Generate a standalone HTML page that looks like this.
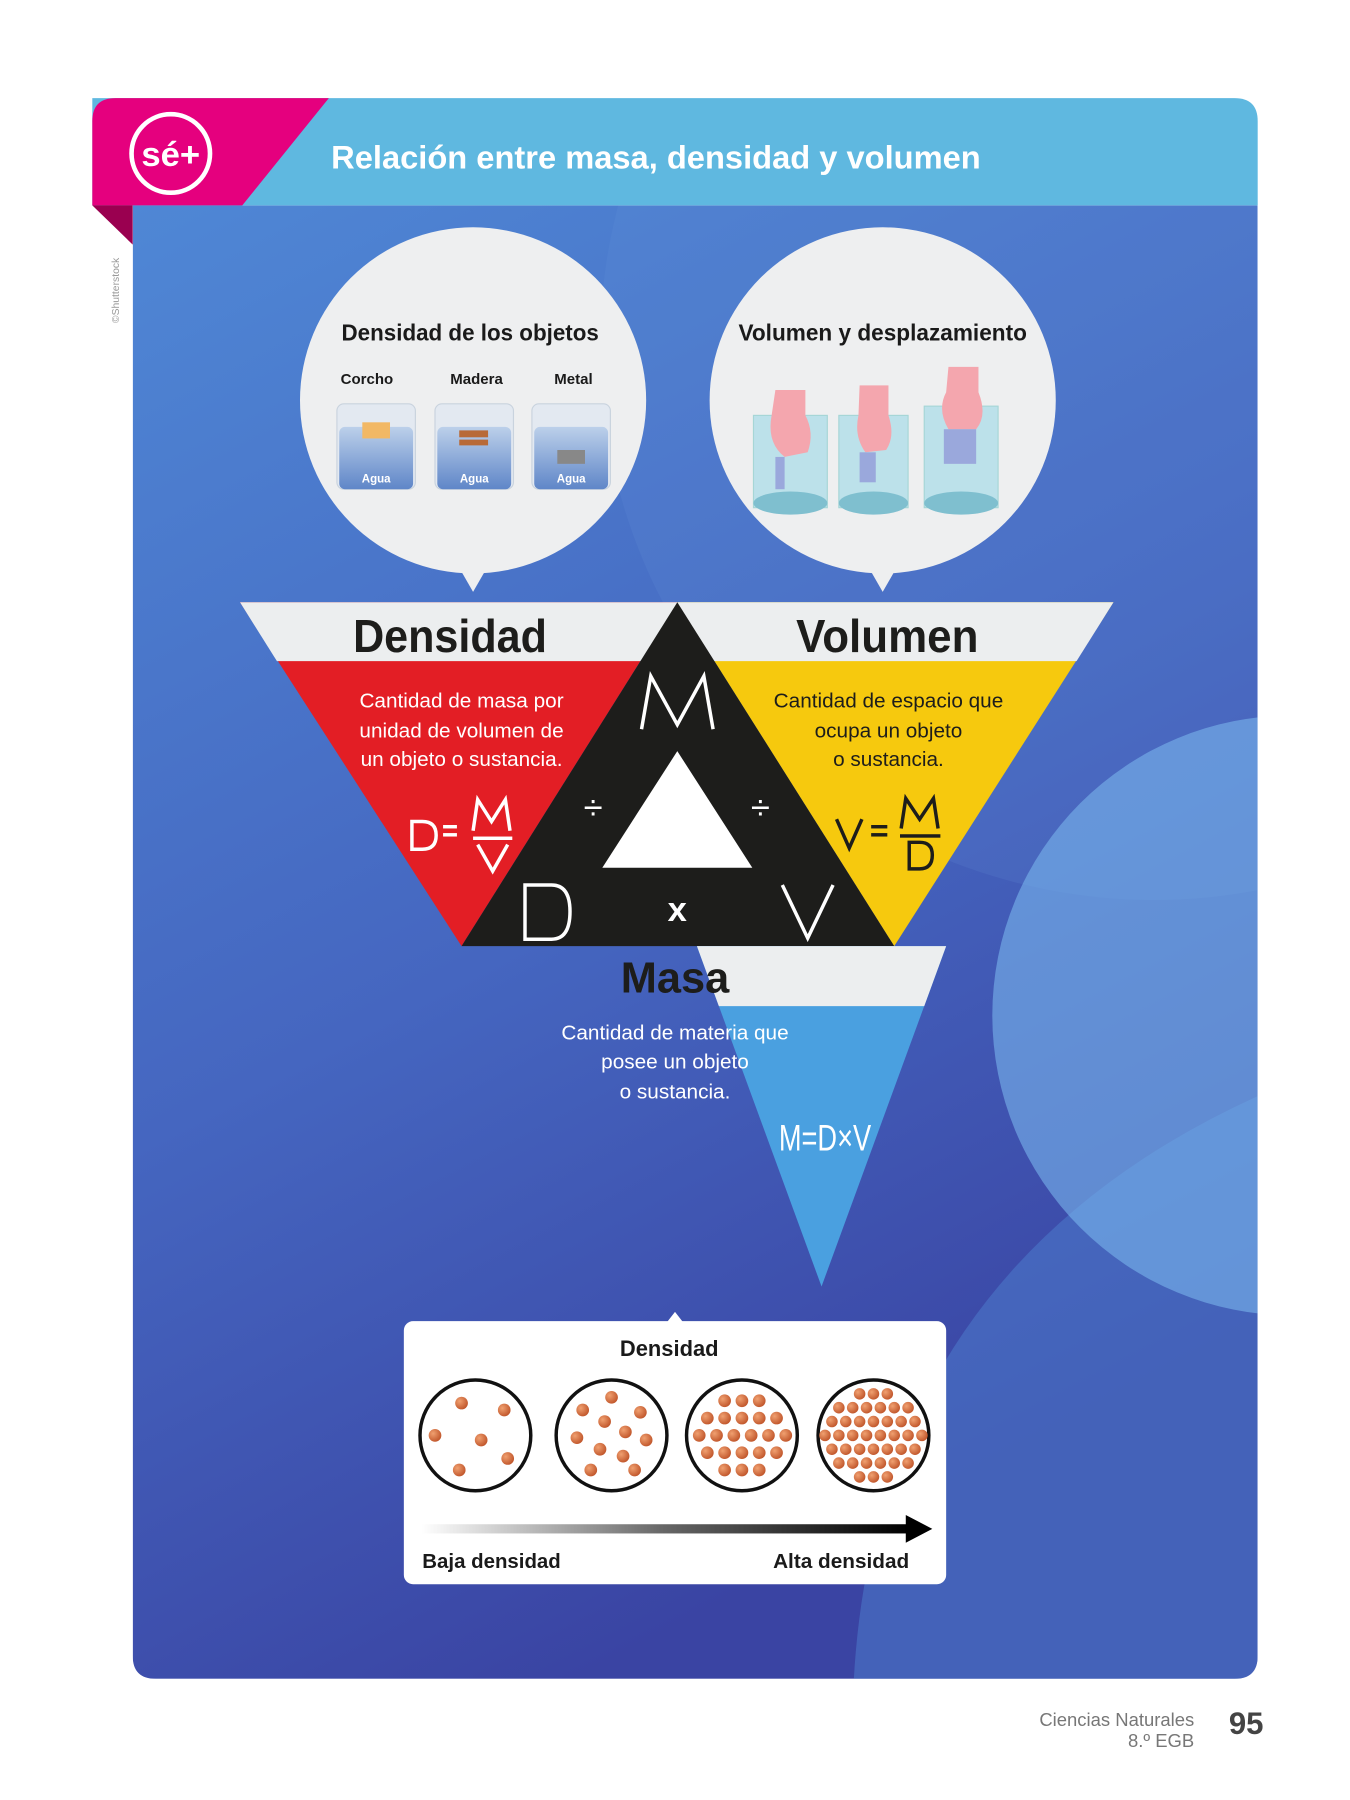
<!DOCTYPE html>
<html><head><meta charset="utf-8"><style>
html,body{margin:0;padding:0;background:#fff}
svg{display:block}
text{font-family:"Liberation Sans",sans-serif}
</style></head><body>
<svg width="1350" height="1800" viewBox="0 0 1170 1560" xmlns="http://www.w3.org/2000/svg">
<defs>
<linearGradient id="bg" x1="0" y1="0" x2="0.4" y2="1">
<stop offset="0" stop-color="#4f87d5"/><stop offset="0.55" stop-color="#4566c0"/><stop offset="1" stop-color="#3a44a3"/>
</linearGradient>
<clipPath id="pc"><path d="M115 178 H1090 V1435 Q1090 1455 1070 1455 H135 Q115 1455 115 1435 Z"/></clipPath>
<linearGradient id="arr" x1="0" x2="1"><stop offset="0" stop-color="#fff"/><stop offset="0.5" stop-color="#666"/><stop offset="1" stop-color="#000"/></linearGradient>
<radialGradient id="dot" cx="0.35" cy="0.35" r="0.7"><stop offset="0" stop-color="#f0a070"/><stop offset="1" stop-color="#c0552a"/></radialGradient>
<linearGradient id="wat" x1="0" y1="0" x2="0" y2="1"><stop offset="0" stop-color="#bcd0ea"/><stop offset="1" stop-color="#5f86c8"/></linearGradient>
</defs>
<rect width="1170" height="1560" fill="#fff"/>
<g clip-path="url(#pc)">
<rect x="115" y="178" width="975" height="1277" fill="url(#bg)"/>
<circle cx="1000" cy="300" r="480" fill="#6a9ae0" opacity="0.15"/>
<path d="M740 1455 Q760 1100 1090 950 V1455 Z" fill="#4d7fd0" opacity="0.5"/>
<circle cx="1120" cy="880" r="260" fill="#7ab6ec" opacity="0.6"/>
</g>
<!-- header -->
<path d="M80 85 H1070 Q1090 85 1090 105 V178 H80 Z" fill="#5fb8e0"/>
<path d="M100 85 H285 L210 178 H80 V105 Q80 85 100 85 Z" fill="#e5007e"/>
<path d="M80 178 H115 V212 Z" fill="#9a0050"/>
<circle cx="148" cy="133" r="34" fill="none" stroke="#fff" stroke-width="4"/>
<text x="148" y="144" font-size="30" font-weight="bold" fill="#fff" text-anchor="middle">sé+</text>
<text x="287" y="146" font-size="28" font-weight="bold" fill="#fff" textLength="563" lengthAdjust="spacingAndGlyphs">Relación entre masa, densidad y volumen</text>
<text transform="translate(103,280) rotate(-90)" font-size="9" fill="#999">©Shutterstock</text>
<!-- circles -->
<circle cx="410" cy="347" r="150" fill="#eeeff0"/>
<path d="M398 492 L410 513 L422 492 Z" fill="#eeeff0"/>
<circle cx="765" cy="347" r="150" fill="#eeeff0"/>
<path d="M753 492 L765 513 L777 492 Z" fill="#eeeff0"/>
<text x="296" y="295" font-size="20" font-weight="bold" fill="#1a1a1a" textLength="223" lengthAdjust="spacingAndGlyphs">Densidad de los objetos</text>
<text x="640" y="295" font-size="20" font-weight="bold" fill="#1a1a1a" textLength="250" lengthAdjust="spacingAndGlyphs">Volumen y desplazamiento</text>
<g font-size="13" font-weight="bold" fill="#1a1a1a" text-anchor="middle">
<text x="318" y="333">Corcho</text><text x="413" y="333">Madera</text><text x="497" y="333">Metal</text></g>
<g>
<g transform="translate(326,0)"><rect x="-34" y="350" width="68" height="74" rx="6" fill="#e3e9f1" stroke="#c9d3de"/><rect x="-32" y="370" width="64" height="54" rx="5" fill="url(#wat)"/><text x="0" y="418" font-size="10" fill="#fff" text-anchor="middle" font-weight="bold">Agua</text></g>
<g transform="translate(411,0)"><rect x="-34" y="350" width="68" height="74" rx="6" fill="#e3e9f1" stroke="#c9d3de"/><rect x="-32" y="370" width="64" height="54" rx="5" fill="url(#wat)"/><text x="0" y="418" font-size="10" fill="#fff" text-anchor="middle" font-weight="bold">Agua</text></g>
<g transform="translate(495,0)"><rect x="-34" y="350" width="68" height="74" rx="6" fill="#e3e9f1" stroke="#c9d3de"/><rect x="-32" y="370" width="64" height="54" rx="5" fill="url(#wat)"/><text x="0" y="418" font-size="10" fill="#fff" text-anchor="middle" font-weight="bold">Agua</text></g>
<rect x="314" y="366" width="24" height="14" fill="#f2b865"/>
<rect x="398" y="373" width="25" height="6" fill="#b86a38"/><rect x="398" y="381" width="25" height="5" fill="#b86a38"/>
<rect x="483" y="390" width="24" height="12" fill="#888"/>
</g>
<g>
<g transform="translate(685,0)"><rect x="-32" y="360" width="64" height="80" fill="#a8dce8" opacity="0.7" stroke="#8cc"/><ellipse cx="0" cy="436" rx="32" ry="10" fill="#7fbfcf"/></g>
<g transform="translate(757,0)"><rect x="-30" y="360" width="60" height="80" fill="#a8dce8" opacity="0.7" stroke="#8cc"/><ellipse cx="0" cy="436" rx="30" ry="10" fill="#7fbfcf"/></g>
<g transform="translate(833,0)"><rect x="-32" y="352" width="64" height="88" fill="#a8dce8" opacity="0.7" stroke="#8cc"/><ellipse cx="0" cy="436" rx="32" ry="10" fill="#7fbfcf"/></g>
<path d="M672 338 H698 V360 Q706 375 700 392 L680 396 Q666 385 668 365 Z" fill="#f4a6ae"/>
<path d="M745 334 H770 V360 Q776 378 768 390 L750 392 Q740 378 744 360 Z" fill="#f4a6ae"/>
<path d="M822 318 H848 V340 Q856 360 846 372 L822 372 Q812 355 820 340 Z" fill="#f4a6ae"/>
<rect x="672" y="396" width="8" height="28" fill="#9aa8dc"/>
<rect x="745" y="392" width="14" height="26" fill="#9aa8dc"/>
<rect x="818" y="372" width="28" height="30" fill="#9aa8dc"/>
</g>
<!-- triangles -->
<path d="M208 522 H587 L400 820 Z" fill="#e31e25"/>
<path d="M587 522 H965 L775 820 Z" fill="#f6c90e"/>
<path d="M208 522 H965 L933 573 H240 Z" fill="#eceeef"/>
<path d="M587 522 L775 820 H400 Z" fill="#1d1d1b"/>
<path d="M587 651 L652 752 H522 Z" fill="#fff"/>
<path d="M604 820 H820 L712 1115 Z" fill="#4aa0e0"/>
<path d="M604 820 H820 L801 872 H623 Z" fill="#eceeef"/>
<text x="306" y="565" font-size="40" font-weight="bold" fill="#1d1d1b" textLength="168" lengthAdjust="spacingAndGlyphs">Densidad</text>
<text x="690" y="565" font-size="40" font-weight="bold" fill="#1d1d1b" textLength="158" lengthAdjust="spacingAndGlyphs">Volumen</text>
<text x="538" y="860" font-size="38" font-weight="bold" fill="#1d1d1b" textLength="94" lengthAdjust="spacingAndGlyphs">Masa</text>
<g font-size="18" fill="#fff" text-anchor="middle">
<text x="400" y="613">Cantidad de masa por</text><text x="400" y="639">unidad de volumen de</text><text x="400" y="664">un objeto o sustancia.</text>
<text x="585" y="901">Cantidad de materia que</text><text x="585" y="926">posee un objeto</text><text x="585" y="952">o sustancia.</text>
</g>
<g font-size="18" fill="#1d1d1b" text-anchor="middle">
<text x="770" y="613">Cantidad de espacio que</text><text x="770" y="639">ocupa un objeto</text><text x="770" y="664">o sustancia.</text>
</g>
<g fill="none" stroke="#fff" stroke-width="3">
<path d="M556 632 L564 586 L587 628 L610 586 L618 632"/>
<path d="M455 767 V814 H478 Q494 814 494 790 Q494 767 478 767 Z"/>
<path d="M678 767 L700 813 L722 767"/>
<path d="M357 712 V736 H366 Q378 736 378 724 Q378 712 366 712 Z"/>
<path d="M410 720 L414 693 L426 712 L438 693 L442 720"/>
<path d="M414 732 L427 755 L440 732"/>
<path d="M725 710 L736 735 L747 710" stroke="#1d1d1b"/>
<path d="M781 718 L785 692 L797 710 L809 692 L813 718" stroke="#1d1d1b"/>
<path d="M788 730 V753 H797 Q808 753 808 741 Q808 730 797 730 Z" stroke="#1d1d1b"/>
</g>
<g fill="#fff"><rect x="384" y="715" width="12" height="3"/><rect x="384" y="722" width="12" height="3"/><rect x="410" y="725" width="34" height="3"/></g>
<g fill="#1d1d1b"><rect x="755" y="715" width="14" height="3"/><rect x="755" y="722" width="14" height="3"/><rect x="780" y="723" width="35" height="3"/></g>
<text x="514" y="710" font-size="30" fill="#fff" text-anchor="middle">÷</text>
<text x="659" y="710" font-size="30" fill="#fff" text-anchor="middle">÷</text>
<text x="587" y="798" font-size="30" font-weight="bold" fill="#fff" text-anchor="middle">x</text>
<text x="715" y="997" font-size="32" fill="#fff" text-anchor="middle" textLength="80" lengthAdjust="spacingAndGlyphs">M=D×V</text>
<!-- bottom box -->
<path d="M578 1146 L585 1137 L592 1146 Z" fill="#fff"/>
<rect x="350" y="1145" width="470" height="228" rx="8" fill="#fff"/>
<text x="580" y="1175" font-size="19" font-weight="bold" fill="#1a1a1a" text-anchor="middle">Densidad</text>
<g fill="#fff" stroke="#111" stroke-width="3">
<circle cx="412" cy="1244" r="48"/><circle cx="530" cy="1244" r="48"/><circle cx="643" cy="1244" r="48"/><circle cx="757" cy="1244" r="48"/></g>
<g fill="url(#dot)">
<g transform="translate(412,1244)"><circle cx="-12" cy="-28" r="5.5"/><circle cx="25" cy="-22" r="5.5"/><circle cx="-35" cy="0" r="5.5"/><circle cx="5" cy="4" r="5.5"/><circle cx="-14" cy="30" r="5.5"/><circle cx="28" cy="20" r="5.5"/></g>
<g transform="translate(530,1244)"><circle cx="0" cy="-33" r="5.5"/><circle cx="25" cy="-20" r="5.5"/><circle cx="-25" cy="-22" r="5.5"/><circle cx="-6" cy="-12" r="5.5"/><circle cx="12" cy="-3" r="5.5"/><circle cx="-30" cy="2" r="5.5"/><circle cx="30" cy="4" r="5.5"/><circle cx="-10" cy="12" r="5.5"/><circle cx="10" cy="18" r="5.5"/><circle cx="-18" cy="30" r="5.5"/><circle cx="20" cy="30" r="5.5"/></g>
<g transform="translate(643,1244)"><circle cx="-15" cy="-30" r="5.5"/><circle cx="0" cy="-30" r="5.5"/><circle cx="15" cy="-30" r="5.5"/><circle cx="-30" cy="-15" r="5.5"/><circle cx="-15" cy="-15" r="5.5"/><circle cx="0" cy="-15" r="5.5"/><circle cx="15" cy="-15" r="5.5"/><circle cx="30" cy="-15" r="5.5"/><circle cx="-37" cy="0" r="5.5"/><circle cx="-22" cy="0" r="5.5"/><circle cx="-7" cy="0" r="5.5"/><circle cx="8" cy="0" r="5.5"/><circle cx="23" cy="0" r="5.5"/><circle cx="38" cy="0" r="5.5"/><circle cx="-30" cy="15" r="5.5"/><circle cx="-15" cy="15" r="5.5"/><circle cx="0" cy="15" r="5.5"/><circle cx="15" cy="15" r="5.5"/><circle cx="30" cy="15" r="5.5"/><circle cx="-15" cy="30" r="5.5"/><circle cx="0" cy="30" r="5.5"/><circle cx="15" cy="30" r="5.5"/></g>
<g transform="translate(757,1244)"><circle cx="-12" cy="-36" r="5"/><circle cx="0" cy="-36" r="5"/><circle cx="12" cy="-36" r="5"/><circle cx="-30" cy="-24" r="5"/><circle cx="-18" cy="-24" r="5"/><circle cx="-6" cy="-24" r="5"/><circle cx="6" cy="-24" r="5"/><circle cx="18" cy="-24" r="5"/><circle cx="30" cy="-24" r="5"/><circle cx="-36" cy="-12" r="5"/><circle cx="-24" cy="-12" r="5"/><circle cx="-12" cy="-12" r="5"/><circle cx="0" cy="-12" r="5"/><circle cx="12" cy="-12" r="5"/><circle cx="24" cy="-12" r="5"/><circle cx="36" cy="-12" r="5"/><circle cx="-42" cy="0" r="5"/><circle cx="-30" cy="0" r="5"/><circle cx="-18" cy="0" r="5"/><circle cx="-6" cy="0" r="5"/><circle cx="6" cy="0" r="5"/><circle cx="18" cy="0" r="5"/><circle cx="30" cy="0" r="5"/><circle cx="42" cy="0" r="5"/><circle cx="-36" cy="12" r="5"/><circle cx="-24" cy="12" r="5"/><circle cx="-12" cy="12" r="5"/><circle cx="0" cy="12" r="5"/><circle cx="12" cy="12" r="5"/><circle cx="24" cy="12" r="5"/><circle cx="36" cy="12" r="5"/><circle cx="-30" cy="24" r="5"/><circle cx="-18" cy="24" r="5"/><circle cx="-6" cy="24" r="5"/><circle cx="6" cy="24" r="5"/><circle cx="18" cy="24" r="5"/><circle cx="30" cy="24" r="5"/><circle cx="-12" cy="36" r="5"/><circle cx="0" cy="36" r="5"/><circle cx="12" cy="36" r="5"/></g>
</g>
<rect x="365" y="1321" width="422" height="8" fill="url(#arr)"/>
<path d="M785 1313 L808 1325 L785 1337 Z" fill="#000"/>
<text x="366" y="1359" font-size="18" font-weight="bold" fill="#1a1a1a" textLength="120" lengthAdjust="spacingAndGlyphs">Baja densidad</text>
<text x="670" y="1359" font-size="18" font-weight="bold" fill="#1a1a1a" textLength="118" lengthAdjust="spacingAndGlyphs">Alta densidad</text>
<!-- footer -->
<text x="1035" y="1496" font-size="16" fill="#777" text-anchor="end">Ciencias Naturales</text>
<text x="1035" y="1514" font-size="16" fill="#777" text-anchor="end">8.º EGB</text>
<text x="1080" y="1503" font-size="27" font-weight="bold" fill="#444" text-anchor="middle">95</text>
</svg>
</body></html>
